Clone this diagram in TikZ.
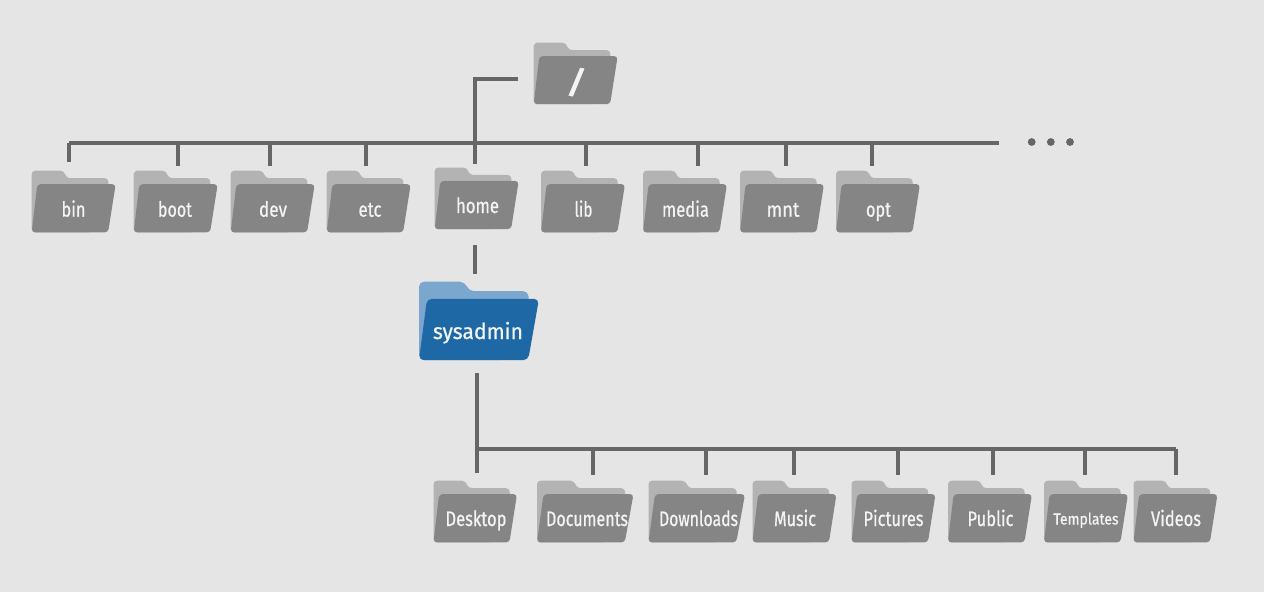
\documentclass[tikz,border=0pt]{standalone}
\usepackage{fontspec}
\usepackage{graphicx}
\setmainfont[FakeBold=0.7]{Fira Sans}
\newfontfamily\slashfont[FakeBold=1]{Fira Sans}
\definecolor{bgc}{HTML}{E5E5E5}
\definecolor{linec}{HTML}{666666}
\definecolor{grayback}{HTML}{B3B3B3}
\definecolor{grayfront}{HTML}{858585}
\definecolor{blueback}{HTML}{7BA6CD}
\definecolor{bluefront}{HTML}{1F68A6}
\definecolor{labelc}{HTML}{F4F4F4}
\tikzset{
  conn/.style={draw=linec,line width=4pt,line cap=butt},
  folderbox/.style={rectangle,inner sep=0pt,outer sep=0pt,draw=none},
  flabeltext/.style={inner sep=0pt,outer sep=0pt,anchor=base,text=labelc},
  dotnode/.style={circle,fill=linec,inner sep=0pt,minimum size=7.8pt,draw=none}
}
\newsavebox\fitbox
\newcommand\fitw[3]{% width, size, text
  \sbox\fitbox{\normalfont\fontsize{#2}{#2}\selectfont #3}%
  \pgfmathsetmacro\fitr{#1/\the\wd\fitbox}%
  \scalebox{\fitr}[1]{\usebox\fitbox}%
}
\newcommand\folder[7]{% back, front, name, x, y, w, h
  \pgfmathsetmacro\fxs{#6/84}\pgfmathsetmacro\fys{#7/62}
  \begin{scope}[shift={(#4,#5)},xscale=\fxs,yscale=\fys]
    \fill[rounded corners=3.5pt,#1] (0,62) -- (0,0) -- (32,0) -- (35,7.5) -- (76.5,7.5) -- (78,40) -- (60,62) -- cycle;
    \fill[rounded corners=3.5pt,#2] (5.6,13.5) -- (84,13.5) -- (76.4,62) -- (0,62) -- cycle;
  \end{scope}
  \node[folderbox,minimum width=#6pt,minimum height=#7pt,anchor=north west] (#3) at (#4,#5) {};
}
\newcommand\flabel[6]{% name, cx, baseline, text width, font size, text
  \node[flabeltext] (#1) at (#2,#3) {\fitw{#4}{#5}{#6}};
}
\begin{document}
\begin{tikzpicture}[x=1pt,y=-1pt]
\useasboundingbox (0,0) rectangle (1264,592);
\fill[bgc] (0,0) rectangle (1264,592);

% folders
\folder{grayback}{grayfront}{root}{533.7}{42.7}{84}{61.5}
\folder{grayback}{grayfront}{bin}{31.7}{170.7}{84}{61.7}
\folder{grayback}{grayfront}{boot}{133.7}{170.7}{84}{61.7}
\folder{grayback}{grayfront}{dev}{230.7}{170.7}{84}{61.7}
\folder{grayback}{grayfront}{etc}{326.7}{170.7}{84}{61.7}
\folder{grayback}{grayfront}{home}{434.7}{167.5}{84}{61.7}
\folder{grayback}{grayfront}{lib}{541}{170.7}{84}{61.7}
\folder{grayback}{grayfront}{media}{643}{170.7}{84}{61.7}
\folder{grayback}{grayfront}{mnt}{740}{170.7}{84}{61.7}
\folder{grayback}{grayfront}{opt}{836}{170.7}{84}{61.7}
\folder{blueback,rounded corners=5pt}{bluefront,rounded corners=5pt}{sysadmin}{419}{281.7}{120}{78.5}
\folder{grayback}{grayfront}{desktop}{433.5}{480.7}{83.5}{61.7}
\folder{grayback}{grayfront}{documents}{537}{480.7}{96.5}{61.7}
\folder{grayback}{grayfront}{downloads}{648.5}{480.7}{96.5}{61.7}
\folder{grayback}{grayfront}{music}{752.5}{480.7}{84}{61.7}
\folder{grayback}{grayfront}{pictures}{851.5}{480.7}{84}{61.7}
\folder{grayback}{grayfront}{public}{948}{480.7}{84}{61.7}
\folder{grayback}{grayfront}{templates}{1044}{480.7}{84}{61.7}
\folder{grayback}{grayfront}{videos}{1133.5}{480.7}{84}{61.7}

% labels
\node[flabeltext] (lroot) at (576.5,93) {\scalebox{1.6}[1]{\slashfont\fontsize{31}{31}\selectfont /}};
\flabel{lbin}{73.5}{216.7}{24}{21}{bin}
\flabel{lboot}{175}{216.7}{34}{21}{boot}
\flabel{ldev}{273}{216.7}{28}{21}{dev}
\flabel{letc}{370}{216.7}{23}{21}{etc}
\flabel{lhome}{477.5}{213}{43}{21}{home}
\flabel{llib}{583.5}{216.7}{18}{21}{lib}
\flabel{lmedia}{685.5}{216.7}{47}{21}{media}
\flabel{lmnt}{783}{216.7}{33}{21}{mnt}
\flabel{lopt}{878.5}{216.7}{25}{21}{opt}
\flabel{lsysadmin}{478}{339}{90}{22}{sysadmin}
\flabel{ldesktop}{476}{526}{61}{21}{Desktop}
\flabel{ldocuments}{587}{526}{82}{21}{Documents}
\flabel{ldownloads}{698.5}{526}{79}{21}{Downloads}
\flabel{lmusic}{795}{526}{42}{21}{Music}
\flabel{lpictures}{893.5}{526}{60}{21}{Pictures}
\flabel{lpublic}{990.5}{526}{46}{21}{Public}
\flabel{ltemplates}{1086}{524.5}{65}{16}{Templates}
\flabel{lvideos}{1176}{526}{50}{21}{Videos}

% junction coordinates
\coordinate (bus1end) at (999,143);
\coordinate (elbow) at (474.5,79);
\coordinate (rootend) at (517.5,79);
\foreach \n/\px in {bin/69,boot/178,dev/270,etc/366,home/474.5,lib/585.5,media/698,mnt/786,opt/872}
  \coordinate (j\n) at (\px,143);
\foreach \n/\px in {desktop/477,documents/593,downloads/705.5,music/794,pictures/898,public/993,templates/1085,videos/1176}
  \coordinate (j\n) at (\px,449);

% connectors
\draw[conn] (rootend) -- (elbow) -- (jhome);
\draw[conn,line cap=square] (jbin) -- (bus1end);
\foreach \n/\gap in {bin/8.7,boot/4.7,dev/4.7,etc/4.7,lib/4.7,media/4.7,mnt/4.7,opt/4.7}
  \draw[conn,shorten >=\gap pt] (j\n) -- (j\n |- \n.north);
\draw[conn,shorten >=3.5pt] (jhome) -- (jhome |- home.north);
\coordinate (jhomelow) at (474.5,245);
\draw[conn,shorten >=7.5pt] (jhomelow) -- (jhomelow |- sysadmin.north);
\coordinate (jsys) at (477,373);
\draw[conn] (jsys) -- (jdesktop);
\draw[conn,line cap=square] (jdesktop) -- (jvideos);
\draw[conn,shorten >=7.7pt] (jdesktop) -- (jdesktop |- desktop.north);
\foreach \n in {documents,downloads,music,pictures,public,templates,videos}
  \draw[conn,shorten >=5.7pt] (j\n) -- (j\n |- \n.north);

% ellipsis
\node[dotnode] (dot1) at (1031.7,142) {};
\node[dotnode] (dot2) at (1050.8,142) {};
\node[dotnode] (dot3) at (1070,142) {};
\end{tikzpicture}
\end{document}
